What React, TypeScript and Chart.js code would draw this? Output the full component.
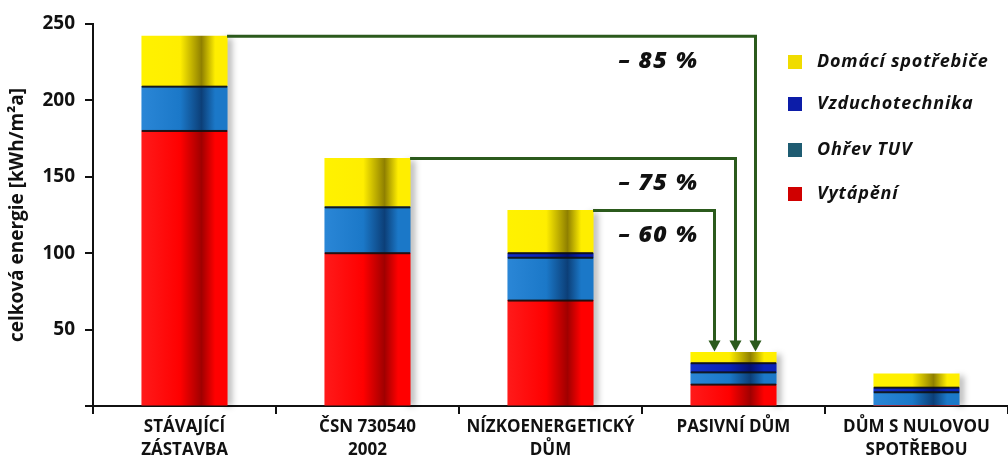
import { useEffect, useRef } from 'react';
import { Chart, registerables } from 'chart.js';

Chart.register(...registerables);

const categories = [
  ['STÁVAJÍCÍ', 'ZÁSTAVBA'],
  ['ČSN 730540', '2002'],
  ['NÍZKOENERGETICKÝ', 'DŮM'],
  ['PASIVNÍ DŮM'],
  ['DŮM S NULOVOU', 'SPOTŘEBOU'],
];

const vytapeni = [180, 100, 69, 14, 0];
const ohrevTUV = [29, 30, 28, 8, 9];
const vzduchotechnika = [0, 0, 3, 6, 3];
const spotrebice = [33, 32, 28, 7, 9];

const yTicks = [0, 50, 100, 150, 200, 250];

const reductionLabels = ['– 85 %', '– 75 %', '– 60 %'];
const reductionFrom = [0, 1, 2];
const reductionTo = 3;
const arrowOffsets = [22, 2, -19];

const BAR_PCT = 0.465;
const FONT = '"Open Sans", "DejaVu Sans", sans-serif';

function cylinder(base: string, dark: string, light: string) {
  return (ctx: any) => {
    const chart = ctx.chart;
    const xs = chart.scales && chart.scales.x;
    if (!xs || ctx.type !== 'data' || !xs.width) return base;
    const c = xs.getPixelForValue(ctx.dataIndex);
    const w = (xs.width / categories.length) * BAR_PCT;
    const g = chart.ctx.createLinearGradient(c - w / 2, 0, c + w / 2, 0);
    g.addColorStop(0, light);
    g.addColorStop(0.45, base);
    g.addColorStop(0.7, dark);
    g.addColorStop(0.86, base);
    g.addColorStop(1, base);
    return g;
  };
}

const seriesDefs = [
  { label: 'Vytápění', data: vytapeni, base: '#ff0000', dark: '#a00000', light: '#ff1a1a', legend: '#d00000' },
  { label: 'Ohřev TUV', data: ohrevTUV, base: '#1b78c8', dark: '#0c3f78', light: '#2a86d6', legend: '#1f5c72' },
  { label: 'Vzduchotechnika', data: vzduchotechnika, base: '#0a22b8', dark: '#031070', light: '#1530c8', legend: '#0c1ca8' },
  { label: 'Domácí spotřebiče', data: spotrebice, base: '#ffee00', dark: '#8f8000', light: '#fff200', legend: '#f0dc00' },
];

const totals = categories.map((_, i) => seriesDefs.reduce((a, s) => a + s.data[i], 0));

const legendPlugin = {
  id: 'customLegend',
  afterDraw(chart: any) {
    const ctx = chart.ctx;
    ctx.save();
    const items = [...seriesDefs].reverse();
    const ys = [62, 104, 150, 194];
    items.forEach((s, i) => {
      const y = ys[i];
      ctx.fillStyle = s.legend;
      ctx.fillRect(788, y - 7, 14, 14);
      ctx.fillStyle = '#111';
      ctx.font = `italic bold 18px ${FONT}`;
      (ctx as any).letterSpacing = '0.8px';
      ctx.textAlign = 'left';
      ctx.textBaseline = 'middle';
      ctx.fillText(s.label, 817, y);
    });
    ctx.restore();
  },
};

const shadowPlugin = {
  id: 'barShadow',
  beforeDatasetsDraw(chart: any) {
    const ctx = chart.ctx;
    const xs = chart.scales.x;
    const ys = chart.scales.y;
    const w = (xs.width / categories.length) * BAR_PCT;
    ctx.save();
    ctx.filter = 'blur(3px)';
    ctx.fillStyle = 'rgba(0,0,0,0.28)';
    totals.forEach((t, i) => {
      if (!t) return;
      const c = xs.getPixelForValue(i);
      const top = ys.getPixelForValue(t);
      const bottom = ys.getPixelForValue(0);
      ctx.fillRect(c + w / 2 - 3, top + 2, 8, bottom - top - 2);
    });
    ctx.restore();
  },
  afterDatasetsDraw(chart: any) {
    // dark separators between stacked segments
    const ctx = chart.ctx;
    const xs = chart.scales.x;
    const ys = chart.scales.y;
    const w = (xs.width / categories.length) * BAR_PCT;
    ctx.save();
    ctx.fillStyle = 'rgba(15,15,15,0.9)';
    categories.forEach((_, i) => {
      const c = xs.getPixelForValue(i);
      let cum = 0;
      for (let k = 0; k < seriesDefs.length - 1; k++) {
        const v = seriesDefs[k].data[i];
        cum += v;
        if (v > 0 && cum < totals[i]) {
          const y = ys.getPixelForValue(cum);
          ctx.fillRect(c - w / 2, y - 1, w, 2);
        }
      }
    });
    ctx.restore();
  },
};

const arrowPlugin = {
  id: 'arrows',
  afterDatasetsDraw(chart: any) {
    const ctx = chart.ctx;
    const xs = chart.scales.x;
    const ys = chart.scales.y;
    const topMeta = chart.getDatasetMeta(seriesDefs.length - 1);
    const w = (xs.width / categories.length) * BAR_PCT;
    const tx = xs.getPixelForValue(reductionTo);
    const tyTop = ys.getPixelForValue(totals[reductionTo]);
    ctx.save();
    ctx.strokeStyle = '#2b5a1c';
    ctx.fillStyle = '#2b5a1c';
    ctx.lineWidth = 3;
    reductionFrom.forEach((src, k) => {
      const bar = topMeta.data[src];
      const sx = bar.x + w / 2;
      const sy = ys.getPixelForValue(totals[src]);
      const vx = tx + arrowOffsets[k];
      const tipY = tyTop - 1;
      ctx.beginPath();
      ctx.moveTo(sx, sy);
      ctx.lineTo(vx, sy);
      ctx.lineTo(vx, tipY - 9);
      ctx.stroke();
      ctx.beginPath();
      ctx.moveTo(vx - 6, tipY - 11);
      ctx.lineTo(vx + 6, tipY - 11);
      ctx.lineTo(vx, tipY);
      ctx.closePath();
      ctx.fill();
      ctx.save();
      ctx.fillStyle = '#111';
      ctx.font = `italic 800 23px ${FONT}`;
      (ctx as any).letterSpacing = '1.5px';
      ctx.textAlign = 'right';
      ctx.textBaseline = 'middle';
      ctx.fillText(reductionLabels[k], tx - 35, sy + 25);
      ctx.restore();
    });
    ctx.restore();
  },
};

export default function App() {
  const ref = useRef<HTMLCanvasElement>(null);

  useEffect(() => {
    if (!ref.current) return;
    const chart = new Chart(ref.current, {
      type: 'bar',
      data: {
        labels: categories as any,
        datasets: seriesDefs.map((s) => ({
          label: s.label,
          data: s.data,
          backgroundColor: cylinder(s.base, s.dark, s.light) as any,
          borderWidth: 0,
          inflateAmount: 0.5,
          categoryPercentage: 1,
          barPercentage: BAR_PCT,
          stack: 's',
        })),
      },
      options: {
        animation: false,
        responsive: true,
        maintainAspectRatio: false,
        layout: { padding: { top: 24, right: 0, left: 0, bottom: 0 } },
        plugins: {
          legend: { display: false },
          tooltip: { enabled: false },
        },
        scales: {
          x: {
            stacked: true,
            grid: {
              display: true,
              drawOnChartArea: false,
              drawTicks: true,
              tickLength: 8,
              color: '#111',
              lineWidth: 2,
              offset: true,
            },
            border: { display: true, color: '#111', width: 2 },
            ticks: {
              color: '#111',
              font: { family: FONT, size: 17, weight: 'bold', lineHeight: 1.35 },
              padding: 2,
              maxRotation: 0,
              autoSkip: false,
            },
            afterFit: (s: any) => {
              s.height = 55;
            },
          },
          y: {
            stacked: true,
            min: 0,
            max: 250,
            afterBuildTicks: (s: any) => {
              s.ticks = yTicks.map((v) => ({ value: v }));
            },
            grid: {
              display: true,
              drawOnChartArea: false,
              drawTicks: true,
              tickLength: 8,
              color: '#111',
              lineWidth: 2,
            },
            border: { display: true, color: '#111', width: 2 },
            ticks: {
              color: '#111',
              font: { family: FONT, size: 19, weight: 'bold' },
              padding: 10,
              callback: (v: any) => (v === 0 ? '' : String(v)),
            },
            title: {
              display: true,
              text: 'celková energie [kWh/m²a]',
              color: '#111',
              font: { family: FONT, size: 19, weight: 'bold' },
              padding: { top: 6, bottom: 0 },
            },
            afterFit: (s: any) => {
              s.width = 93;
            },
          },
        },
      },
      plugins: [shadowPlugin, arrowPlugin, legendPlugin],
    });
    return () => chart.destroy();
  }, []);

  return (
    <div style={{ position: 'absolute', left: 0, top: 0, width: 1008, height: 461, background: '#fff' }}>
      <canvas ref={ref} />
    </div>
  );
}
